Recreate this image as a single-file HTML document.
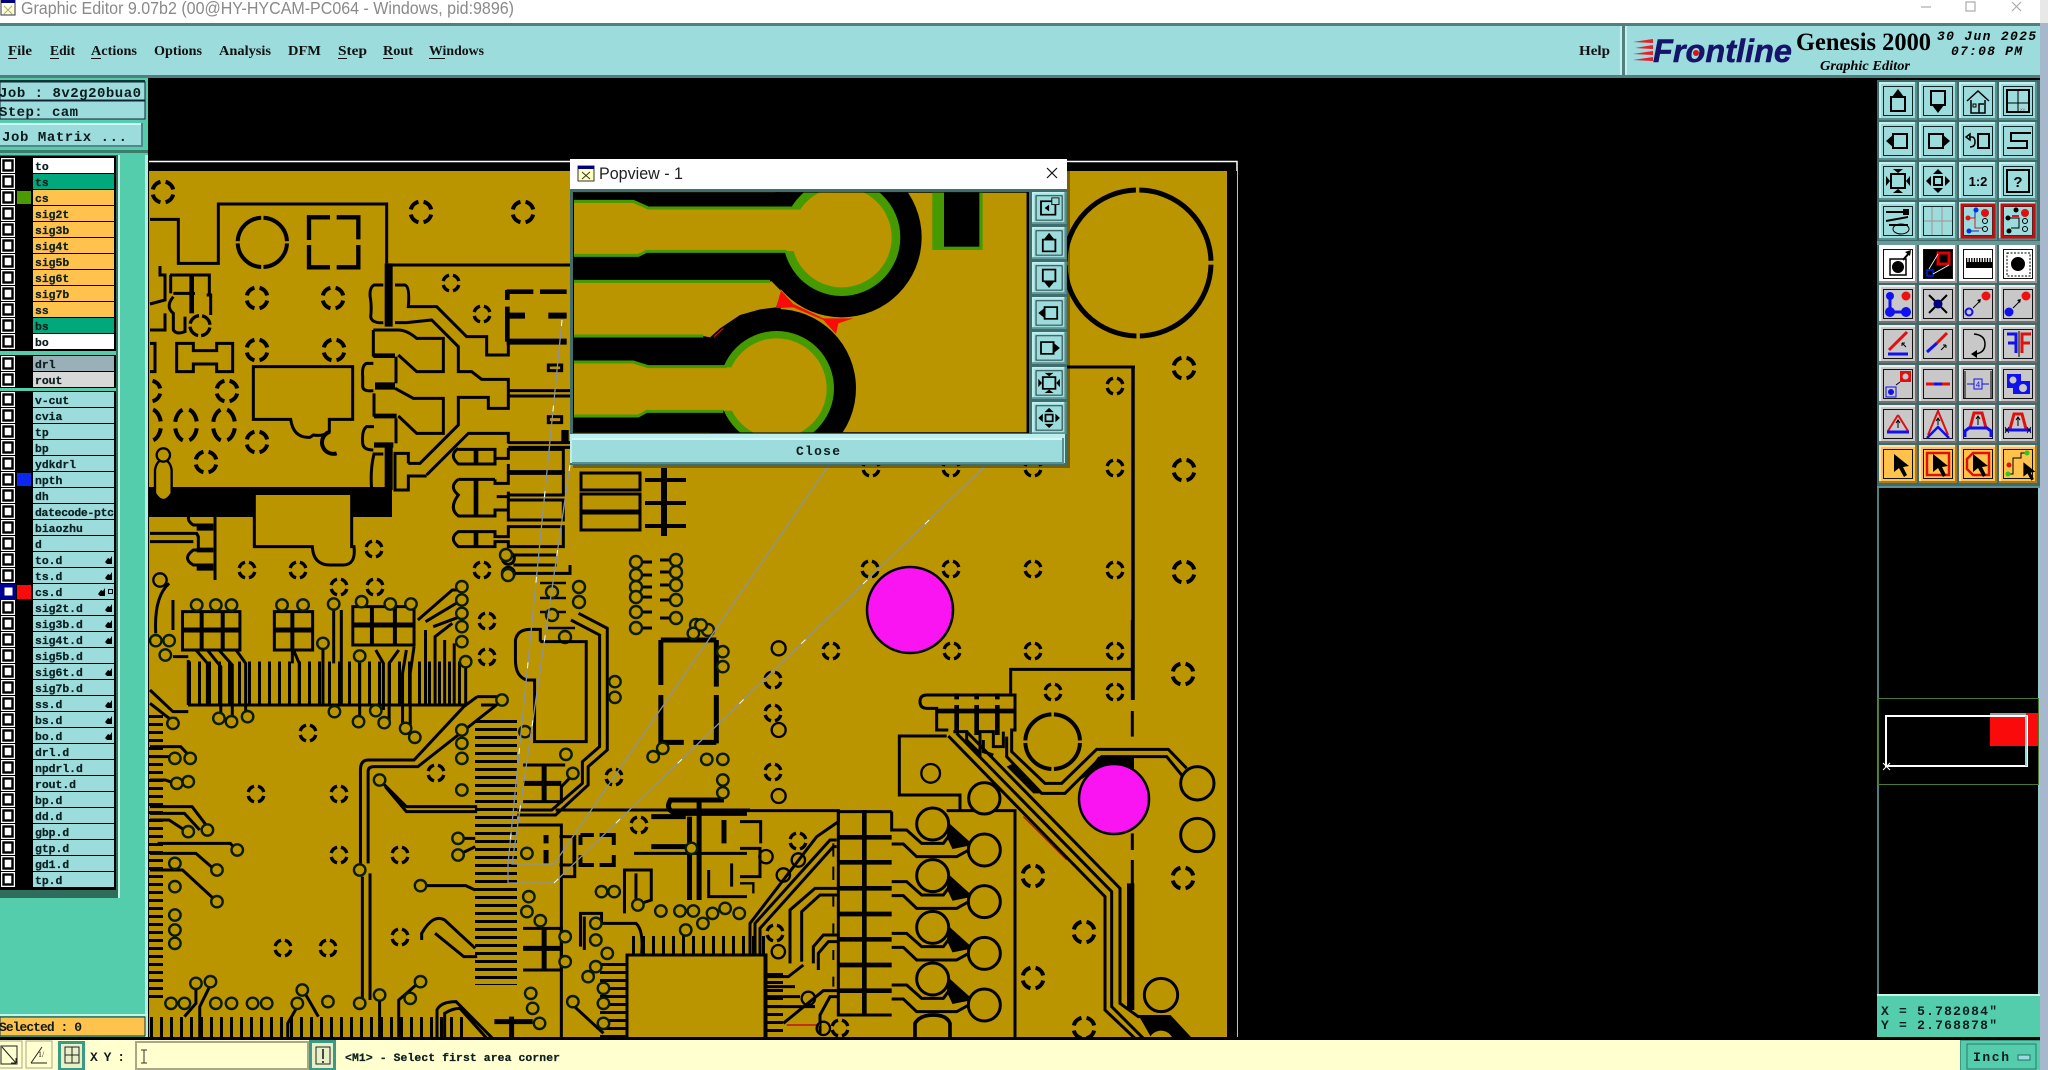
<!DOCTYPE html>
<html><head><meta charset="utf-8"><title>Graphic Editor</title>
<style>
html,body{margin:0;padding:0;background:#000;width:2048px;height:1070px;overflow:hidden}
svg{display:block}
.m{font-family:"Liberation Mono",monospace;font-weight:bold;fill:#0c1c1c}
.s{font-family:"Liberation Serif",serif;font-weight:bold;fill:#111}
.u{font-family:"Liberation Sans",sans-serif}
.z path,.z line,.z rect{vector-effect:non-scaling-stroke}
.l{font-family:"Liberation Mono",monospace;font-weight:bold;font-size:11.4px;fill:#0c2020;stroke:#0c2020;stroke-width:.25px}
</style></head><body>
<svg width="2048" height="1070" viewBox="0 0 2048 1070" xmlns="http://www.w3.org/2000/svg">
<defs>
<circle id="T" r="10.5" fill="none" stroke="#000" stroke-width="4" pathLength="100" stroke-dasharray="17 8" stroke-dashoffset="-4"/>
<circle id="t" r="8" fill="none" stroke="#000" stroke-width="3.4" pathLength="100" stroke-dasharray="17 8" stroke-dashoffset="-4"/>
<ellipse id="O" rx="11" ry="16" fill="none" stroke="#000" stroke-width="4" pathLength="100" stroke-dasharray="17 8" stroke-dashoffset="-4"/>
<ellipse id="q" rx="15" ry="17" fill="#ba9500" stroke="#0a1a00" stroke-width="2.4" style="vector-effect:non-scaling-stroke"/>
<circle id="p" r="6" fill="#ba9500" stroke="#0a1a00" stroke-width="2.4"/>
<g id="c"><rect x="1" width="14" height="15" fill="#fff"/><rect x="3.5" y="2.5" width="9" height="10" fill="none" stroke="#000" stroke-width="2.4"/></g>
<path id="h" d="M0,6L3,2L5,3L7,0V4L7,8H2Z" fill="#000"/>
<g id="bt"><rect width="38" height="38" fill="#9cdcdc"/><path d="M1,38V1H38" fill="none" stroke="#c4efef" stroke-width="2"/><path d="M37,0V37H0" fill="none" stroke="#5a8f8f" stroke-width="2"/><rect x="4.5" y="4.5" width="29" height="29" fill="none" stroke="#152525" stroke-width="1"/></g>
<g id="bg"><rect width="38" height="38" fill="#c8c8c8"/><path d="M1,38V1H38" fill="none" stroke="#ededed" stroke-width="2"/><path d="M37,0V37H0" fill="none" stroke="#707070" stroke-width="2"/><rect x="4.5" y="4.5" width="29" height="29" fill="none" stroke="#111" stroke-width="1"/></g>
<g id="bw"><rect width="38" height="38" fill="#fff"/><path d="M37,0V37H0" fill="none" stroke="#999" stroke-width="2"/><rect x="4.5" y="4.5" width="29" height="29" fill="none" stroke="#111" stroke-width="1"/></g>
<g id="bo"><rect width="38" height="38" fill="#ffc24c"/><path d="M1,38V1H38" fill="none" stroke="#ffe2a8" stroke-width="2"/><path d="M37,0V37H0" fill="none" stroke="#a87a28" stroke-width="2"/><rect x="4.5" y="4.5" width="29" height="29" fill="none" stroke="#111" stroke-width="1"/></g>
<g id="iu"><rect x="12" y="15" width="14" height="14" fill="none" stroke="#000" stroke-width="2"/><path d="M13,15L19,7L25,15Z"/></g>
<g id="id"><rect x="12" y="9" width="14" height="14" fill="none" stroke="#000" stroke-width="2"/><path d="M13,23H25L19,31Z"/></g>
<g id="il"><rect x="14" y="12" width="14" height="14" fill="none" stroke="#000" stroke-width="2"/><path d="M15,12V26L7,19Z"/></g>
<g id="ir"><rect x="10" y="12" width="14" height="14" fill="none" stroke="#000" stroke-width="2"/><path d="M23,12V26L31,19Z"/></g>
<g id="ifit"><rect x="12" y="12" width="14" height="14" fill="none" stroke="#000" stroke-width="2"/><path d="M14,7H24L19,11ZM14,31H24L19,27ZM7,14V24L11,19ZM31,14V24L27,19Z"/></g>
<g id="ice"><rect x="15" y="15" width="8" height="8" fill="none" stroke="#000" stroke-width="2"/><path d="M19,7L14,12H24ZM19,31L14,26H24ZM7,19L12,14V24ZM31,19L26,14V24Z"/></g>
<path id="ptr" d="M13,9V27L18,23L23,32L26,30L22,22L28,21Z"/>
<clipPath id="cb"><rect x="149" y="171" width="1078" height="866"/></clipPath>
<clipPath id="cp"><rect x="42" y="128" width="1358" height="719"/></clipPath>
</defs>

<!-- base -->
<rect width="2048" height="1070" fill="#000"/>
<rect x="2040" width="8" height="1070" fill="#a8b8cc"/>
<rect width="2040" height="23" fill="#fff"/>
<rect x="2040" width="8" height="23" fill="#e8e8e8"/>
<rect x="1" y="0" width="14" height="15" fill="#fff" stroke="#333"/><rect x="1" y="0" width="14" height="3" fill="#000080"/><path d="M4,6L12,14M12,6L4,14" stroke="#333"/><rect x="3" y="5" width="10" height="9" fill="#ffffb0" opacity=".6"/>
<text class="u" x="21" y="14" font-size="17.5" fill="#8a8a8a" textLength="493" lengthAdjust="spacingAndGlyphs">Graphic Editor 9.07b2 (00@HY-HYCAM-PC064 - Windows, pid:9896)</text>
<path d="M1921,7H1931" stroke="#aaa" stroke-width="1.2"/><rect x="1966" y="2" width="9" height="9" fill="none" stroke="#aaa" stroke-width="1.2"/><path d="M2012,2L2021,11M2021,2L2012,11" stroke="#aaa" stroke-width="1.2"/>

<rect y="23" width="2040" height="55" fill="#4f7f7f"/>
<rect y="26" width="2040" height="49" fill="#9cdcdc"/>
<g class="s" font-size="14">
<text x="8" y="55" textLength="24" lengthAdjust="spacingAndGlyphs">File</text>
<text x="50" y="55" textLength="25" lengthAdjust="spacingAndGlyphs">Edit</text>
<text x="91" y="55" textLength="46" lengthAdjust="spacingAndGlyphs">Actions</text>
<text x="154" y="55" textLength="48" lengthAdjust="spacingAndGlyphs">Options</text>
<text x="219" y="55" textLength="52" lengthAdjust="spacingAndGlyphs">Analysis</text>
<text x="288" y="55" textLength="33" lengthAdjust="spacingAndGlyphs">DFM</text>
<text x="338" y="55" textLength="29" lengthAdjust="spacingAndGlyphs">Step</text>
<text x="383" y="55" textLength="30" lengthAdjust="spacingAndGlyphs">Rout</text>
<text x="429" y="55" textLength="55" lengthAdjust="spacingAndGlyphs">Windows</text>
<text x="1579" y="55" textLength="31" lengthAdjust="spacingAndGlyphs">Help</text>
</g>
<path d="M8,58.5H17M50,58.5H59M91,58.5H101M338,58.5H347M383,58.5H393M429,58.5H445" stroke="#111" stroke-width="1"/>
<rect x="1620" y="26" width="2" height="49" fill="#c4efef"/><rect x="1622" y="26" width="3" height="52" fill="#4f7f7f"/><rect x="1625" y="26" width="2" height="49" fill="#c4efef"/>
<path d="M1633,42L1653,39V43ZM1635,48L1653,45V49ZM1633,54L1653,51V55ZM1633,60L1653,57V61Z" fill="#e8202c"/>
<text x="1653" y="62" font-family="Liberation Sans" font-weight="bold" font-style="italic" font-size="32" fill="#14146a" stroke="#14146a" stroke-width=".5" textLength="139" lengthAdjust="spacingAndGlyphs">Frontline</text>
<circle cx="1696" cy="53" r="3" fill="#e01010"/>
<text x="1796" y="50" font-family="Liberation Serif" font-weight="bold" font-size="25" fill="#000" textLength="135" lengthAdjust="spacingAndGlyphs">Genesis 2000</text>
<text x="1820" y="70" font-family="Liberation Serif" font-weight="bold" font-style="italic" font-size="14" fill="#000" textLength="90" lengthAdjust="spacingAndGlyphs">Graphic Editor</text>
<text x="1937" y="40" font-family="Liberation Mono" font-weight="bold" font-style="italic" font-size="13" fill="#000" textLength="99" lengthAdjust="spacing">30 Jun 2025</text>
<text x="1951" y="55" font-family="Liberation Mono" font-weight="bold" font-style="italic" font-size="13" fill="#000" textLength="71" lengthAdjust="spacing">07:08 PM</text>

<!-- left panel -->
<rect y="78" width="148" height="962" fill="#54cdac"/>
<rect x="145" y="155" width="3" height="882" fill="#b8efe0"/>
<rect y="80" width="145" height="2" fill="#0f3a3a"/>
<rect y="82" width="145" height="18" fill="#9cdcdc" stroke="#123" stroke-width="1"/>
<rect y="101" width="145" height="18" fill="#9cdcdc" stroke="#123" stroke-width="1"/>
<text class="m" x="-1" y="97" font-size="14" textLength="142">Job : 8v2g20bua0</text>
<text class="m" x="-1" y="116" font-size="14" textLength="79">Step: cam</text>
<rect y="123" width="143" height="23" fill="#9cdcdc"/><path d="M0,124H142" stroke="#d4f7f7" stroke-width="2"/><path d="M142,123V146H0" fill="none" stroke="#4f8a8a" stroke-width="2"/>
<text class="m" x="2" y="141" font-size="14" textLength="125">Job Matrix ...</text>
<rect y="150" width="148" height="3" fill="#3d7b6a"/>
<rect y="155" width="118" height="743" fill="#2e6d5c"/>
<rect x="118" y="155" width="2" height="743" fill="#c8f4e8"/>
<rect y="156" width="116" height="195" fill="#000"/>
<rect y="355" width="116" height="33" fill="#000"/>
<rect y="391" width="116" height="499" fill="#000"/>
<rect y="351" width="116" height="4" fill="#54cdac"/><rect y="388" width="116" height="3" fill="#54cdac"/>

<g id="rows">
<use href="#c" y="158"/><rect x="33" y="158" width="81" height="15" fill="#fff"/><text class="l" x="35" y="170">to</text>
<use href="#c" y="174"/><rect x="33" y="174" width="81" height="15" fill="#00a87c"/><text class="l" x="35" y="186">ts</text>
<use href="#c" y="190"/><rect x="33" y="190" width="81" height="15" fill="#ffc24c"/><rect x="17" y="191" width="14" height="13" fill="#4a9a00"/><text class="l" x="35" y="202">cs</text>
<use href="#c" y="206"/><rect x="33" y="206" width="81" height="15" fill="#ffc24c"/><text class="l" x="35" y="218">sig2t</text>
<use href="#c" y="222"/><rect x="33" y="222" width="81" height="15" fill="#ffc24c"/><text class="l" x="35" y="234">sig3b</text>
<use href="#c" y="238"/><rect x="33" y="238" width="81" height="15" fill="#ffc24c"/><text class="l" x="35" y="250">sig4t</text>
<use href="#c" y="254"/><rect x="33" y="254" width="81" height="15" fill="#ffc24c"/><text class="l" x="35" y="266">sig5b</text>
<use href="#c" y="270"/><rect x="33" y="270" width="81" height="15" fill="#ffc24c"/><text class="l" x="35" y="282">sig6t</text>
<use href="#c" y="286"/><rect x="33" y="286" width="81" height="15" fill="#ffc24c"/><text class="l" x="35" y="298">sig7b</text>
<use href="#c" y="302"/><rect x="33" y="302" width="81" height="15" fill="#ffc24c"/><text class="l" x="35" y="314">ss</text>
<use href="#c" y="318"/><rect x="33" y="318" width="81" height="15" fill="#00a87c"/><text class="l" x="35" y="330">bs</text>
<use href="#c" y="334"/><rect x="33" y="334" width="81" height="15" fill="#fff"/><text class="l" x="35" y="346">bo</text>
<use href="#c" y="356"/><rect x="33" y="356" width="81" height="15" fill="#9ab0b8"/><text class="l" x="35" y="368">drl</text>
<use href="#c" y="372"/><rect x="33" y="372" width="81" height="15" fill="#d8d8d8"/><text class="l" x="35" y="384">rout</text>
<g id="g3">
<use href="#c" y="392"/><rect x="33" y="392" width="81" height="15" fill="#9cdcdc"/><text class="l" x="35" y="404">v-cut</text>
<use href="#c" y="408"/><rect x="33" y="408" width="81" height="15" fill="#9cdcdc"/><text class="l" x="35" y="420">cvia</text>
<use href="#c" y="424"/><rect x="33" y="424" width="81" height="15" fill="#9cdcdc"/><text class="l" x="35" y="436">tp</text>
<use href="#c" y="440"/><rect x="33" y="440" width="81" height="15" fill="#9cdcdc"/><text class="l" x="35" y="452">bp</text>
<use href="#c" y="456"/><rect x="33" y="456" width="81" height="15" fill="#9cdcdc"/><text class="l" x="35" y="468">ydkdrl</text>
<use href="#c" y="472"/><rect x="33" y="472" width="81" height="15" fill="#9cdcdc"/><rect x="17" y="473" width="14" height="13" fill="#0a28f0"/><text class="l" x="35" y="484">npth</text>
<use href="#c" y="488"/><rect x="33" y="488" width="81" height="15" fill="#9cdcdc"/><text class="l" x="35" y="500">dh</text>
<use href="#c" y="504"/><rect x="33" y="504" width="81" height="15" fill="#9cdcdc"/><text class="l" x="35" y="516" textLength="79" lengthAdjust="spacing">datecode-ptc</text>
<use href="#c" y="520"/><rect x="33" y="520" width="81" height="15" fill="#9cdcdc"/><text class="l" x="35" y="532">biaozhu</text>
<use href="#c" y="536"/><rect x="33" y="536" width="81" height="15" fill="#9cdcdc"/><text class="l" x="35" y="548">d</text>
<use href="#c" y="552"/><rect x="33" y="552" width="81" height="15" fill="#9cdcdc"/><text class="l" x="35" y="564">to.d</text><use href="#h" x="105" y="556"/>
<use href="#c" y="568"/><rect x="33" y="568" width="81" height="15" fill="#9cdcdc"/><text class="l" x="35" y="580">ts.d</text><use href="#h" x="105" y="572"/>
<rect x="0" y="584" width="16" height="16" fill="#000090"/><rect x="4" y="587" width="9" height="9" fill="#fff" stroke="#000090"/><rect x="33" y="584" width="81" height="15" fill="#9cdcdc"/><rect x="17" y="585" width="14" height="14" fill="#fa0a0a"/><text class="l" x="35" y="596">cs.d</text><use href="#h" x="98" y="588"/><rect x="108.500" y="589.500" width="4" height="4" fill="none" stroke="#000"/>
<use href="#c" y="600"/><rect x="33" y="600" width="81" height="15" fill="#9cdcdc"/><text class="l" x="35" y="612">sig2t.d</text><use href="#h" x="105" y="604"/>
<use href="#c" y="616"/><rect x="33" y="616" width="81" height="15" fill="#9cdcdc"/><text class="l" x="35" y="628">sig3b.d</text><use href="#h" x="105" y="620"/>
<use href="#c" y="632"/><rect x="33" y="632" width="81" height="15" fill="#9cdcdc"/><text class="l" x="35" y="644">sig4t.d</text><use href="#h" x="105" y="636"/>
<use href="#c" y="648"/><rect x="33" y="648" width="81" height="15" fill="#9cdcdc"/><text class="l" x="35" y="660">sig5b.d</text>
<use href="#c" y="664"/><rect x="33" y="664" width="81" height="15" fill="#9cdcdc"/><text class="l" x="35" y="676">sig6t.d</text><use href="#h" x="105" y="668"/>
<use href="#c" y="680"/><rect x="33" y="680" width="81" height="15" fill="#9cdcdc"/><text class="l" x="35" y="692">sig7b.d</text>
<use href="#c" y="696"/><rect x="33" y="696" width="81" height="15" fill="#9cdcdc"/><text class="l" x="35" y="708">ss.d</text><use href="#h" x="105" y="700"/>
<use href="#c" y="712"/><rect x="33" y="712" width="81" height="15" fill="#9cdcdc"/><text class="l" x="35" y="724">bs.d</text><use href="#h" x="105" y="716"/>
<use href="#c" y="728"/><rect x="33" y="728" width="81" height="15" fill="#9cdcdc"/><text class="l" x="35" y="740">bo.d</text><use href="#h" x="105" y="732"/>
<use href="#c" y="744"/><rect x="33" y="744" width="81" height="15" fill="#9cdcdc"/><text class="l" x="35" y="756">drl.d</text>
<use href="#c" y="760"/><rect x="33" y="760" width="81" height="15" fill="#9cdcdc"/><text class="l" x="35" y="772">npdrl.d</text>
<use href="#c" y="776"/><rect x="33" y="776" width="81" height="15" fill="#9cdcdc"/><text class="l" x="35" y="788">rout.d</text>
<use href="#c" y="792"/><rect x="33" y="792" width="81" height="15" fill="#9cdcdc"/><text class="l" x="35" y="804">bp.d</text>
<use href="#c" y="808"/><rect x="33" y="808" width="81" height="15" fill="#9cdcdc"/><text class="l" x="35" y="820">dd.d</text>
<use href="#c" y="824"/><rect x="33" y="824" width="81" height="15" fill="#9cdcdc"/><text class="l" x="35" y="836">gbp.d</text>
<use href="#c" y="840"/><rect x="33" y="840" width="81" height="15" fill="#9cdcdc"/><text class="l" x="35" y="852">gtp.d</text>
<use href="#c" y="856"/><rect x="33" y="856" width="81" height="15" fill="#9cdcdc"/><text class="l" x="35" y="868">gd1.d</text>
<use href="#c" y="872"/><rect x="33" y="872" width="81" height="15" fill="#9cdcdc"/><text class="l" x="35" y="884">tp.d</text>
</g>
</g>
<rect y="1014" width="148" height="2" fill="#c8f4e8"/>
<rect y="1017" width="145" height="19" fill="#ffc24c" stroke="#0f3a3a"/>
<text class="m" x="-1" y="1031" font-size="13" textLength="83">Selected : 0</text>

<!-- board -->
<path d="M149,161.500H1237V1037" fill="none" stroke="#fff" stroke-width="1.500"/>
<g clip-path="url(#cb)">
<rect x="149" y="171" width="1078" height="866" fill="#ba9500"/>

<!-- big black bar -->
<path d="M149,487H392V517H351V495H254V517H149Z" fill="#000"/>

<!-- thermals -->
<g>
<use href="#T" x="163" y="192"/><use href="#T" x="421" y="212"/><use href="#T" x="523" y="212"/><use href="#T" x="257" y="298"/><use href="#T" x="333" y="298"/><use href="#T" x="257" y="350"/><use href="#T" x="334" y="350"/><use href="#T" x="227" y="391"/><use href="#T" x="150" y="391"/><use href="#t" x="451" y="283"/><use href="#t" x="482" y="314"/><use href="#T" x="257" y="442"/><use href="#T" x="206" y="462"/><use href="#t" x="247" y="570"/><use href="#t" x="298" y="570"/><use href="#t" x="374" y="549"/><use href="#t" x="482" y="570"/>
<use href="#O" x="186" y="425"/><use href="#O" x="224" y="425"/><use href="#O" x="150" y="425"/>
<use href="#t" x="339" y="587"/><use href="#t" x="375" y="587"/><use href="#t" x="487" y="621"/><use href="#t" x="487" y="657"/><use href="#t" x="308" y="733"/><use href="#t" x="256" y="794"/><use href="#t" x="339" y="794"/><use href="#t" x="339" y="855"/><use href="#t" x="400" y="855"/><use href="#t" x="436" y="773"/><use href="#t" x="614" y="777"/><use href="#t" x="400" y="937"/><use href="#t" x="283" y="948"/><use href="#t" x="328" y="948"/><use href="#t" x="639" y="825"/>
<use href="#t" x="1115" y="386"/><use href="#t" x="1115" y="468"/><use href="#t" x="1115" y="570"/><use href="#t" x="1115" y="651"/><use href="#t" x="1033" y="651"/><use href="#t" x="952" y="651"/><use href="#t" x="831" y="651"/><use href="#t" x="870" y="569"/><use href="#t" x="951" y="569"/><use href="#t" x="1033" y="569"/><use href="#t" x="871" y="468"/><use href="#t" x="951" y="468"/><use href="#t" x="1033" y="468"/>
<use href="#T" x="1184" y="368"/><use href="#T" x="1184" y="470"/><use href="#T" x="1184" y="572"/><use href="#T" x="1183" y="674"/><use href="#T" x="1183" y="878"/><use href="#T" x="1033" y="876"/><use href="#T" x="1084" y="932"/><use href="#T" x="1033" y="978"/><use href="#T" x="1084" y="1028"/>
<use href="#t" x="773" y="680"/><use href="#t" x="773" y="713"/><use href="#t" x="773" y="772"/><use href="#t" x="1053" y="692"/><use href="#t" x="1115" y="692"/><use href="#t" x="798" y="841"/><use href="#t" x="775" y="933"/><use href="#t" x="840" y="1028"/>
</g>
<circle cx="1138" cy="263" r="73" fill="none" stroke="#000" stroke-width="5" pathLength="400" stroke-dasharray="97 3" stroke-dashoffset="-1.500"/>

<!-- zoom-9 region -->
<g transform="translate(150,160) scale(.33333)" fill="none" stroke="#000" stroke-width="9">
<path d="M0,178H85V310H205V132H710V310"/><path d="M720,315H1260"/>
<circle cx="337" cy="247" r="74" stroke-width="12" pathLength="400" stroke-dasharray="94 6" stroke-dashoffset="-3"/>
<path d="M477,240V172H540M560,172H625V238M625,255V322H560M540,322H477V255" stroke-width="13"/>
<path d="M30,318V345H45V420L0,432M60,345H178V405M62,345V400"/>
<path d="M125,345V460" stroke-width="14"/>
<path d="M70,400H135M70,410Q45,440 70,460V510Q80,525 105,515V470M0,510H45V460"/>
<circle cx="150" cy="497" r="30" stroke-width="10" pathLength="100" stroke-dasharray="20 5" stroke-dashoffset="-3"/>
<path d="M170,405H182V465"/>
<path d="M80,550H130V572H200V550H248V635H200V612H130V635H80Z"/>
<path d="M0,550H15V635H0"/>
<path d="M310,620H608V778H538V815Q520,830 490,825L480,832Q430,835 422,778H310Z"/>
<path d="M540,815A32,32 0 1 0 560,880" stroke-width="12"/>
<path d="M313,1005V1160H487Q490,1215 540,1215H580Q618,1215 612,1160H605V1005"/>
<path d="M716,310V500" stroke-width="24"/><path d="M716,850V990" stroke-width="24"/>
<path d="M700,375H672Q655,385 662,420Q665,445 662,470Q665,490 700,488"/>
<path d="M735,375H765Q780,380 775,440H860L950,530H1010V585H1075V545"/>
<path d="M735,488H770L845,480L925,560V635H965L995,658H1075V745H1015V712H925V795L810,910H775"/>
<path d="M830,945L955,820H1075V850"/><path d="M830,948H775V990H735V880H775V910"/>
<path d="M670,510V590M670,510H745Q770,510 800,535H880V635H800L745,585"/>
<path d="M670,587H735" stroke-width="14"/><path d="M738,590V670"/>
<path d="M670,610H650Q635,615 638,650V680Q640,695 670,692"/>
<path d="M675,678H735" stroke-width="22"/><path d="M735,685L790,715H880V820H800L745,768"/>
<path d="M672,700V770"/><path d="M672,768H740" stroke-width="14"/>
<path d="M738,775V850M672,800H650Q635,810 638,850Q640,870 670,870"/>
<path d="M672,855H730" stroke-width="16"/>
<path d="M700,882H672Q660,930 665,988H700"/>
<path d="M1070,395H1150M1170,395H1250" stroke-width="14"/>
<path d="M1072,390V420M1072,440V545" stroke-width="14"/>
<path d="M1075,467H1125M1195,467H1250" stroke-width="18"/>
<path d="M1070,545H1250" stroke-width="18"/>
<path d="M1195,615H1235V632H1195ZM1195,770H1235V788H1195Z"/>
<path d="M1075,692H1260M1075,708H1260"/>
<path d="M1075,848H1260M1075,862H1260"/>
<path d="M1245,810V845" stroke-width="22"/>
<path d="M925,865Q895,885 925,912H1035V895H1075V868H1240V935H1075V912M925,868H1035V895"/>
<path d="M978,868V912" stroke-width="14"/>
<path d="M925,958Q895,980 925,1005Q895,1045 925,1068H1035V1050H1075V1020H1240V1080H1075V1050M1035,958H925M1035,958V970H1075V940H1240V1005H1075V995M1040,1010H1075V1025"/>
<path d="M978,958V1068" stroke-width="14"/>
<path d="M925,1115Q895,1135 925,1160H1035V1145H1075V1160H1240V1100H1075V1130H1035V1115H925Z"/>
<path d="M978,1115V1160" stroke-width="14"/>
<path d="M1090,1185H1220M1090,1215H1220M1090,1240H1260V1215"/>
<circle cx="1075" cy="1195" r="18" fill="#ba9500"/><circle cx="1075" cy="1240" r="18" fill="#ba9500"/>
<path d="M15,1000Q40,1040 65,1000V930Q60,900 40,900Q20,900 15,930Z" fill="#ba9500" stroke-width="7"/>
<circle cx="40" cy="885" r="20" fill="#ba9500" stroke-width="7"/>
<path d="M195,1070V1260"/>
<path d="M190,1052H130Q100,1075 130,1095H190"/>
<path d="M140,1105H190M140,1170H190M140,1225H190" stroke-width="14"/>
<path d="M0,1120H140L145,1130V1170H130Q95,1195 130,1215H190M0,1145H130"/>
<circle cx="30" cy="1260" r="20" fill="#ba9500" stroke-width="7"/>
</g>

<!-- mid band below popup -->
<g fill="none" stroke="#000" stroke-width="3">
<path d="M581,473H640V490H581ZM581,494H640V511H581ZM581,513H640V530H581Z"/>
<path d="M664,468V536" stroke-width="6"/><path d="M645,480H686M645,503H686M645,526H686" stroke-width="4"/>
<path d="M636,562H652M636,575H652M636,587H652M636,597H652M636,612H652M636,628H652M660,560H676M660,572H676M660,585H676M660,600H676M660,618H676"/>
<path d="M540,583H566M540,598H566M540,612H566M548,628H575" stroke-width="2.5"/>
</g>
<g><use href="#p" x="636" y="562"/><use href="#p" x="636" y="575"/><use href="#p" x="636" y="587"/><use href="#p" x="636" y="597"/><use href="#p" x="636" y="612"/><use href="#p" x="636" y="628"/><use href="#p" x="676" y="560"/><use href="#p" x="676" y="572"/><use href="#p" x="676" y="585"/><use href="#p" x="676" y="600"/><use href="#p" x="676" y="618"/><use href="#p" x="696" y="625"/><use href="#p" x="708" y="630"/><use href="#p" x="506" y="555"/><use href="#p" x="508" y="575"/><use href="#p" x="579" y="587"/><use href="#p" x="579" y="602"/><use href="#p" x="565" y="637"/><use href="#p" x="552" y="592"/><use href="#p" x="552" y="615"/></g>

<!-- combs -->
<path d="M188,683H467" stroke="#000" stroke-width="43" stroke-dasharray="3 7" fill="none"/>
<path d="M188,705H467" stroke="#000" stroke-width="3"/>
<path d="M496,720V985" stroke="#000" stroke-width="42" stroke-dasharray="3 5" fill="none"/>
<path d="M156,715V1000" stroke="#000" stroke-width="14" stroke-dasharray="3 5" fill="none"/>
<path d="M150,1027H466" stroke="#000" stroke-width="20" stroke-dasharray="3 7" fill="none"/>
<path d="M632,945H765" stroke="#000" stroke-width="18" stroke-dasharray="3 7" fill="none"/>
<path d="M613,963V1037" stroke="#000" stroke-width="26" stroke-dasharray="3 5" fill="none"/>
<path d="M775,973V1037" stroke="#000" stroke-width="16" stroke-dasharray="3 5" fill="none"/>
<path d="M627,1037V955H766V1037" fill="none" stroke="#000" stroke-width="3"/>

<!-- zoom-10 region -->
<g class="z" transform="translate(150,580) scale(.38265,.33333)" fill="none" stroke="#000" stroke-width="3">
<path d="M85,95H235V210H85ZM325,95H425V210H325ZM530,80H690V195H530Z"/>
<path d="M85,150H235M325,150H425M530,135H690" stroke-width="5"/>
<path d="M135,95V210M190,95V210M372,95V210M580,80V195M640,80V195" stroke-width="4"/>
<path d="M120,210L150,250V375M150,210L185,260V410M180,210L215,255V420M225,210L250,250V400M372,210V250M375,210L390,250V375M480,90V250M500,90V375M452,205V375M548,245V420M590,210L610,250V390M650,210L625,250V420M670,210L660,280V450L690,470M690,200L680,280V470"/>
<path d="M700,120L790,30H815M720,125L800,70H815M740,140L810,110M720,375V150M745,375V170L790,130M770,375V180M795,375V190M825,245V375"/>
<path d="M50,10Q10,50 15,160M60,60V150M100,240V375M0,330L60,395H100M0,370L50,415H70M60,230H100"/>
<path d="M855,350H920M855,350L820,380L690,540H570Q550,540 550,570V850"/>
<path d="M865,375H905L700,560H585Q570,560 570,575V850M575,880V1260M555,890V1260"/>
<path d="M1120,100L1195,145V510L1145,560V615L1060,705H960M1100,120L1175,165V500L1130,545V610L1050,690H960"/>
<path d="M960,735H1075V1375M1075,740V890H1110V770H1070"/>
<path d="M1060,690H1568"/>
<path d="M1020,185H1140V485H1005V300H985Q955,290 955,240V180Q960,150 990,148H1020V185"/>
<path d="M1335,180V315M1335,345V490M1480,180V320M1480,345V490M1335,180H1480M1335,487H1395M1420,487H1480" stroke-width="5"/>
<path d="M1030,555V665M975,610H1075" stroke-width="5"/><path d="M975,555H1085M975,665H1075V620L1100,590"/>
<path d="M1030,1045V1170M975,1105H1075" stroke-width="5"/><path d="M975,1045H1075V1170H975"/>
<path d="M1035,765V790M1035,810V850" stroke-width="5"/>
<path d="M1125,765V795M1125,825V855H1160M1175,855H1212V825M1212,795V765H1175M1160,765H1125" stroke-width="4"/>
<path d="M1070,855H1108V770"/>
<path d="M600,600L670,680H855M615,620L670,695H855"/>
<path d="M805,775H850M805,825L850,800M700,917H825L850,930"/>
<path d="M710,1080V1060Q740,1000 770,1020L850,1105M745,1060L820,1130H855"/>
<path d="M0,680H110L150,740M0,700H90L130,750M0,720H50L90,750M20,790H210L225,810M0,820H120L170,870M0,870H85L170,960M0,500H80L105,530M0,530H50M0,600H40L65,610"/>
<path d="M120,1210V1270L90,1310M160,1210L130,1280V1375M400,1230L440,1310M385,1280L360,1330V1375M600,1250V1375M700,1210L650,1260V1375"/>
<path d="M750,1375V1290Q760,1265 800,1265L895,1375M770,1375V1300Q790,1285 810,1285L880,1375"/>
<path d="M900,1325H1000M945,1310V1375" stroke-width="5"/>
<path d="M1100,1270L1185,1360"/>
<path d="M1125,1100V1000H1180V1030M1135,1110V1010M1150,1030H1270Q1290,1050 1285,1120"/>
<path d="M1240,1000V870H1310V960L1270,975V880M1265,820H1560"/>
<path d="M1310,710H1400M1310,800H1400M1410,710V960M1435,660V960M1500,660H1360Q1345,690 1375,700H1560M1500,720V790" stroke-width="5"/>
<path d="M1460,870V950H1560M1520,850V920"/>
</g>
<g transform="translate(150,580) scale(.38265,.33333)">
<use href="#q" x="122" y="75"/><use href="#q" x="172" y="75"/><use href="#q" x="213" y="75"/><use href="#q" x="345" y="75"/><use href="#q" x="400" y="75"/><use href="#q" x="480" y="72"/><use href="#q" x="553" y="65"/><use href="#q" x="628" y="72"/><use href="#q" x="682" y="72"/><use href="#q" x="452" y="190"/><use href="#q" x="548" y="228"/><use href="#q" x="15" y="182"/><use href="#q" x="50" y="182"/><use href="#q" x="40" y="225"/><use href="#q" x="825" y="245"/><use href="#q" x="815" y="185"/><use href="#q" x="815" y="140"/><use href="#q" x="815" y="100"/><use href="#q" x="815" y="60"/><use href="#q" x="815" y="20"/><use href="#q" x="180" y="415"/><use href="#q" x="213" y="425"/><use href="#q" x="255" y="410"/><use href="#q" x="482" y="395"/><use href="#q" x="545" y="425"/><use href="#q" x="590" y="392"/><use href="#q" x="612" y="428"/><use href="#q" x="668" y="445"/><use href="#q" x="692" y="472"/><use href="#q" x="920" y="360"/><use href="#q" x="980" y="455"/><use href="#q" x="815" y="450"/><use href="#q" x="815" y="490"/><use href="#q" x="815" y="535"/><use href="#q" x="815" y="630"/><use href="#q" x="1087" y="523"/><use href="#q" x="1105" y="580"/><use href="#q" x="1215" y="305"/><use href="#q" x="1215" y="352"/><use href="#q" x="1340" y="505"/><use href="#q" x="1315" y="530"/><use href="#q" x="1455" y="538"/><use href="#q" x="1497" y="538"/><use href="#q" x="1497" y="600"/><use href="#q" x="1497" y="638"/><use href="#q" x="1497" y="215"/><use href="#q" x="1497" y="260"/><use href="#q" x="1420" y="160"/><use href="#q" x="1440" y="135"/><use href="#q" x="600" y="600"/><use href="#q" x="805" y="775"/><use href="#q" x="805" y="825"/><use href="#q" x="985" y="820"/><use href="#q" x="548" y="870"/><use href="#q" x="707" y="917"/><use href="#q" x="990" y="950"/><use href="#q" x="985" y="995"/><use href="#q" x="1020" y="1022"/><use href="#q" x="60" y="430"/><use href="#q" x="65" y="535"/><use href="#q" x="105" y="535"/><use href="#q" x="70" y="610"/><use href="#q" x="100" y="605"/><use href="#q" x="150" y="750"/><use href="#q" x="100" y="755"/><use href="#q" x="228" y="810"/><use href="#q" x="175" y="870"/><use href="#q" x="175" y="965"/><use href="#q" x="65" y="850"/><use href="#q" x="65" y="920"/><use href="#q" x="65" y="1005"/><use href="#q" x="65" y="1050"/><use href="#q" x="65" y="1090"/><use href="#q" x="120" y="1210"/><use href="#q" x="158" y="1205"/><use href="#q" x="55" y="1270"/><use href="#q" x="90" y="1270"/><use href="#q" x="172" y="1270"/><use href="#q" x="213" y="1270"/><use href="#q" x="268" y="1270"/><use href="#q" x="305" y="1270"/><use href="#q" x="398" y="1230"/><use href="#q" x="385" y="1270"/><use href="#q" x="465" y="1265"/><use href="#q" x="548" y="1270"/><use href="#q" x="600" y="1245"/><use href="#q" x="707" y="1205"/><use href="#q" x="680" y="1255"/><use href="#q" x="995" y="1240"/><use href="#q" x="1000" y="1285"/><use href="#q" x="1018" y="1330"/><use href="#q" x="1105" y="1265"/><use href="#q" x="1185" y="1330"/><use href="#q" x="1185" y="1270"/><use href="#q" x="1185" y="1225"/><use href="#q" x="1145" y="1190"/><use href="#q" x="1165" y="1160"/><use href="#q" x="1195" y="1120"/><use href="#q" x="1165" y="1080"/><use href="#q" x="1165" y="1030"/><use href="#q" x="1180" y="935"/><use href="#q" x="1213" y="935"/><use href="#q" x="1275" y="975"/><use href="#q" x="1335" y="993"/><use href="#q" x="1385" y="993"/><use href="#q" x="1420" y="993"/><use href="#q" x="1470" y="1000"/><use href="#q" x="1503" y="985"/><use href="#q" x="1400" y="1050"/><use href="#q" x="1445" y="1030"/><use href="#q" x="1540" y="1000"/><use href="#q" x="1415" y="805"/><use href="#q" x="1085" y="1070"/><use href="#q" x="1085" y="1145"/>
</g>

<!-- zoom-11 region -->
<g transform="translate(740,640) scale(.33333)" fill="none" stroke="#000" stroke-width="9">
<path d="M1177,-60V180M1177,213V290M1177,580V630M1177,660V1110"/>
<path d="M1172,730V1110" stroke-width="22"/>
<path d="M812,160V88H1177"/>
<path d="M540,185Q540,165 560,165H825V270H815V335L915,430H965L1070,328H1285L1340,385"/>
<path d="M540,185Q540,205 560,205H590V270H625"/>
<path d="M590,213H825" stroke-width="14"/>
<path d="M650,160V178M650,195V280M710,160V178M710,195V285M772,160V178M772,195V285" stroke-width="14"/>
<path d="M625,288L1095,770V1110L1190,1200M650,280L1115,755V1100L1215,1200M680,275L1140,745V1090L1195,1130H1290L1355,1200M730,300V335L760,345M800,290V350L905,460H975L1085,350H1280L1325,405"/>
<path d="M640,275H680V300L720,340V275H760V320H790V275"/>
<circle cx="938" cy="305" r="82" stroke-width="12" pathLength="400" stroke-dasharray="94 6" stroke-dashoffset="-3"/>
<path d="M620,288H478V465H660V510"/>
<circle cx="572" cy="400" r="28" stroke-width="7"/>
<path d="M0,512H295V545L230,590L30,850V945M620,512H825V1195M295,515H455"/>
<path d="M373,510V1125" stroke-width="14"/>
<path d="M295,592H455M295,667H455M295,745H455M295,822H455M295,898H455M295,975H455M295,1052H455" stroke-width="14"/>
<path d="M295,515V1125H455"/>
<path d="M290,600H270L45,850V945M290,620H280L60,865V945M295,745H225L150,810V970M295,765H240L185,815V965M295,885H250L220,920V970M295,905H265L235,940V990M295,1052H250L130,1150M295,1070H270L240,1125V1180"/>
<path d="M0,945H75V1195"/>
<path d="M280,610V650M280,680V720M280,770V800M280,850V880M280,930V960M280,1010V1040" stroke-width="6"/>
<path d="M80,1010H145L190,975M80,1040H165M80,1070H180M80,1100H225"/>
<path d="M140,1155H240" stroke="#c02020" stroke-width="5"/>
<path d="M525,1195V1150Q540,1125 580,1125Q620,1125 630,1150V1195" stroke-width="11"/>
<path d="M850,530L980,660" stroke="#b00" stroke-width="3"/>
<g id="u1"><path d="M455,515V570H500L545,610H610L625,590M455,612H490L530,650H650L690,628"/><circle cx="578" cy="552" r="48" fill="#ba9500"/><path d="M630,558L690,612L640,622L625,590Z" fill="#000"/><circle cx="733" cy="630" r="48" fill="#ba9500"/></g>
<g transform="translate(0,155)"><path d="M455,612H490L530,650H650L690,628M455,570H500L545,610H610L625,590"/><circle cx="578" cy="552" r="48" fill="#ba9500"/><path d="M630,558L690,612L640,622L625,590Z" fill="#000"/><circle cx="733" cy="630" r="48" fill="#ba9500"/></g>
<g transform="translate(0,310)"><path d="M455,612H490L530,650H650L690,628M455,570H500L545,610H610L625,590"/><circle cx="578" cy="552" r="48" fill="#ba9500"/><path d="M630,558L690,612L640,622L625,590Z" fill="#000"/><circle cx="733" cy="630" r="48" fill="#ba9500"/></g>
<g transform="translate(0,465)"><path d="M455,612H490L530,650H650L690,628M455,570H500L545,610H610L625,590"/><circle cx="578" cy="552" r="48" fill="#ba9500"/><path d="M630,558L690,612L640,622L625,590Z" fill="#000"/><circle cx="733" cy="630" r="48" fill="#ba9500"/></g>
<circle cx="733" cy="475" r="47" fill="#ba9500"/>
<circle cx="1372" cy="430" r="50" fill="#ba9500"/><circle cx="1372" cy="585" r="50" fill="#ba9500"/>
<path d="M1195,1125L1290,1125L1355,1195H1235Z" fill="#000" stroke="none"/>
<circle cx="1263" cy="1065" r="50" fill="#ba9500"/>
<circle cx="1263" cy="1210" r="38" fill="#ba9500" stroke="none"/>
<circle cx="116" cy="25" r="21" stroke-width="7"/><circle cx="116" cy="270" r="21" stroke-width="7"/><circle cx="116" cy="468" r="21" stroke-width="7"/>
<circle cx="78" cy="650" r="20" stroke-width="7"/><circle cx="175" cy="660" r="20" stroke-width="7"/><circle cx="130" cy="705" r="20" stroke-width="7"/>
<circle cx="115" cy="935" r="20" stroke-width="7"/><circle cx="205" cy="1075" r="20" stroke-width="7"/><circle cx="250" cy="1165" r="20" stroke-width="7"/>
<path d="M0,545H62V610M0,625H60V710H0"/>
<path d="M0,730H40V760" stroke-width="7"/>
<path d="M1075,350H1182V400L1150,385H1100L1050,400L1025,418Z" fill="#000" stroke="none"/>
<path d="M820,370L910,460H880L800,380Z" fill="#000" stroke="none"/>
</g>
<circle cx="910" cy="610" r="43" fill="#fb14f2" stroke="#000" stroke-width="2.500"/>
<circle cx="1114" cy="799" r="35" fill="#fb14f2" stroke="#000" stroke-width="2.500"/>

<!-- horizontal near popup -->
<path d="M1060,367H1135" stroke="#000" stroke-width="3" fill="none"/>
<path d="M1133,366V700" stroke="#000" stroke-width="3.500" fill="none"/>

<!-- overlay lines -->
<g fill="none" stroke="#8c92a0" stroke-width="1.300">
<path d="M562,320L508,864V883H554L986,465"/>
<path d="M570,465L512,864H554L829,465"/>
</g>
<g fill="none" stroke="#fff" stroke-width="1" stroke-dasharray="6 80">
<path d="M562,320L508,864"/><path d="M570,465L512,864"/><path d="M554,883L986,465"/>
</g>
</g>
<rect x="1227" y="171" width="10" height="866" fill="#000"/>

<!-- popup -->
<rect x="573" y="162" width="497" height="306" fill="#000" opacity=".35"/>
<rect x="570" y="159" width="497" height="306" fill="#3e6e6e"/>
<rect x="570" y="159" width="497" height="30" fill="#fff"/>
<rect x="578" y="166" width="16" height="15" fill="#ffffc0" stroke="#333"/><rect x="578" y="166" width="16" height="3" fill="#000080"/><path d="M582,172L590,179M590,172L582,179" stroke="#333"/>
<text class="u" x="599" y="179" font-size="16.500" fill="#222" textLength="84" lengthAdjust="spacingAndGlyphs">Popview - 1</text>
<path d="M1047,168L1057,178M1057,168L1047,178" stroke="#111" stroke-width="1.200"/>
<rect x="573" y="192" width="458" height="241" fill="#000"/>
<rect x="1029" y="190" width="38" height="244" fill="#3e6e6e"/>
<rect x="570" y="434" width="497" height="31" fill="#bdeeee"/>
<rect x="570" y="463" width="497" height="2" fill="#3e6e6e"/><rect x="1065" y="434" width="2" height="31" fill="#3e6e6e"/>
<g transform="translate(560,150) scale(.33333)">
<g clip-path="url(#cp)">
<rect x="42" y="128" width="1358" height="719" fill="#ba9500"/>
<rect x="42" y="128" width="620" height="719" fill="#000"/>
<circle cx="845" cy="262" r="240" fill="#000"/>
<circle cx="650" cy="715" r="238" fill="#000"/>
<circle cx="845" cy="262" r="176" fill="#449a00"/>
<circle cx="650" cy="715" r="172" fill="#449a00"/>
<circle cx="845" cy="262" r="150" fill="#ba9500"/>
<circle cx="650" cy="715" r="150" fill="#ba9500"/>
<path d="M42,154H220L265,176H760V303H260L235,316H42Z" fill="#ba9500"/>
<path d="M42,154H220L265,174H722M42,316H235L260,304H680" fill="none" stroke="#449a00" stroke-width="9"/>
<path d="M42,636H220L265,652H560V782H260L235,798H42Z" fill="#ba9500"/>
<path d="M42,636H220L265,650H500M42,798H235L260,784H490" fill="none" stroke="#449a00" stroke-width="9"/>
<path d="M42,394H635L665,425L648,472L600,478L540,495L480,535L450,562L430,558H42Z" fill="#ba9500"/>
<path d="M42,394H630M42,558H430" stroke="#449a00" stroke-width="9" fill="none"/>
<path d="M663,422L700,462L790,505L880,505L835,520L828,552L790,510L700,472L648,474Z" fill="#fa0a0a"/>
<path d="M462,560L490,535" stroke="#fa0a0a" stroke-width="3"/>
<rect x="1117" y="120" width="151" height="180" fill="#449a00"/>
<rect x="1152" y="120" width="106" height="170" fill="#000"/>
</g>
</g>
<g id="ptb">
<g transform="translate(1032,192) scale(.9,.84)"><use href="#bt"/><rect x="10" y="11" width="16" height="16" fill="none" stroke="#000" stroke-width="2"/><rect x="22" y="7" width="8" height="8" fill="#9cdcdc" stroke="#000"/><path d="M14,19L19,15V23Z"/></g>
<g transform="translate(1032,227) scale(.9,.84)"><use href="#bt"/><use href="#iu"/></g>
<g transform="translate(1032,262) scale(.9,.84)"><use href="#bt"/><use href="#id"/></g>
<g transform="translate(1032,297) scale(.9,.84)"><use href="#bt"/><use href="#il"/></g>
<g transform="translate(1032,332) scale(.9,.84)"><use href="#bt"/><use href="#ir"/></g>
<g transform="translate(1032,367) scale(.9,.84)"><use href="#bt"/><use href="#ifit"/></g>
<g transform="translate(1032,402) scale(.9,.84)"><use href="#bt"/><use href="#ice"/></g>
</g>
<rect x="572" y="438" width="492" height="25" fill="#9cdcdc"/><path d="M572,439H1064" stroke="#d4f7f7" stroke-width="2"/><path d="M1063,438V463H572" fill="none" stroke="#5a8f8f" stroke-width="2"/>
<text class="m" x="796" y="455" font-size="13" textLength="44">Close</text>

<!-- right toolbar -->
<rect x="1877" y="80" width="163" height="408" fill="#3f6a6a"/>
<rect x="1877" y="241" width="163" height="4" fill="#6a9a9a"/>
<rect x="1877" y="486" width="163" height="2" fill="#5a9090"/>
<g fill="#000">
<g transform="translate(1879,82)"><use href="#bt"/><use href="#iu"/></g>
<g transform="translate(1919,82)"><use href="#bt"/><use href="#id"/></g>
<g transform="translate(1959,82)"><use href="#bt"/><path d="M8,19L19,9L30,19M12,18V31H26V18M20,31V22H25" fill="none" stroke="#000" stroke-width="1.500"/><rect x="14" y="22" width="3" height="3" fill="none" stroke="#000"/></g>
<g transform="translate(1999,82)"><use href="#bt"/><rect x="8" y="8" width="22" height="22" fill="none" stroke="#000" stroke-width="2"/><path d="M8,21H30M19,8V30" stroke="#000"/><text x="21" y="29" font-size="4" font-family="Liberation Sans" fill="#555">XY</text></g>
<g transform="translate(1879,122)"><use href="#bt"/><use href="#il"/></g>
<g transform="translate(1919,122)"><use href="#bt"/><use href="#ir"/></g>
<g transform="translate(1959,122)"><use href="#bt"/><rect x="19" y="12" width="11" height="14" fill="none" stroke="#000" stroke-width="2"/><path d="M7,15L11,12V18ZM10,15H13Q16,15 16,20Q16,25 11,25" stroke="#000" stroke-width="1.500" fill="none"/></g>
<g transform="translate(1999,122)"><use href="#bt"/><path d="M32,11H12V19H28V26H8" fill="none" stroke="#000" stroke-width="2"/></g>
<g transform="translate(1879,162)"><use href="#bt"/><use href="#ifit"/></g>
<g transform="translate(1919,162)"><use href="#bt"/><use href="#ice"/></g>
<g transform="translate(1959,162)"><use href="#bt"/><text x="19" y="24" text-anchor="middle" font-size="13" font-weight="bold" font-family="Liberation Sans" fill="#000">1:2</text></g>
<g transform="translate(1999,162)"><use href="#bt"/><rect x="8" y="8" width="22" height="22" fill="none" stroke="#000" stroke-width="2"/><text x="19" y="25" text-anchor="middle" font-size="15" font-weight="bold" font-family="Liberation Sans" fill="#000">?</text></g>
<g transform="translate(1879,202)"><use href="#bt"/><path d="M7,10H24M7,19L29,15M10,23H29" fill="none" stroke="#000" stroke-width="2"/><path d="M24,7H30V13H24Z" fill="#000"/><ellipse cx="22" cy="27" rx="8" ry="5" fill="none" stroke="#000"/></g>
<g transform="translate(1919,202)"><use href="#bt"/><path d="M5,19H33M13,5V33M23,5V33" stroke="#a89090" fill="none"/></g>
<g transform="translate(1959,202)"><use href="#bt"/><rect x="3" y="3" width="32" height="32" fill="none" stroke="#c01010" stroke-width="3"/><path d="M9,16H16V26H24" fill="none" stroke="#d02020"/><path d="M16,8V16M10,29H20" stroke="#0030e0" fill="none"/><circle cx="9" cy="16" r="2.500" fill="#e01010"/><circle cx="17" cy="8" r="2.500" fill="#0030e0"/><circle cx="10" cy="29" r="2.500" fill="#0030e0"/><circle cx="26" cy="11" r="4" fill="#e01010"/><circle cx="26" cy="19" r="2.500" fill="none" stroke="#000"/><circle cx="26" cy="27" r="2.500" fill="none" stroke="#000"/></g>
<g transform="translate(1999,202)"><use href="#bt"/><rect x="3" y="3" width="32" height="32" fill="none" stroke="#c01010" stroke-width="3"/><path d="M9,16H20V26H12" fill="none" stroke="#000"/><circle cx="9" cy="16" r="2.500"/><circle cx="17" cy="8" r="2.500"/><circle cx="10" cy="29" r="2.500"/><circle cx="26" cy="11" r="4" fill="#e01010"/><circle cx="26" cy="19" r="2.500" fill="none" stroke="#000"/><circle cx="26" cy="27" r="2.500" fill="none" stroke="#000"/><path d="M13,14H20" stroke="#d02020" stroke-width="2"/></g>

<g transform="translate(1879,245)"><use href="#bw"/><rect x="11" y="14" width="16" height="16" fill="none" stroke="#000" stroke-width="1.500"/><circle cx="19" cy="22" r="6"/><path d="M24,15L31,7" stroke="#000" stroke-width="2"/><path d="M32,5L26,7L31,11Z"/></g>
<g transform="translate(1919,245)"><use href="#bw"/><rect x="5" y="5" width="28" height="28"/><rect x="19" y="8" width="11" height="11" fill="none" stroke="#e00000" stroke-width="3"/><rect x="8" y="25" width="6" height="6" fill="none" stroke="#0020e0" stroke-width="1.500"/><path d="M10,24L19,9M14,29L30,20" stroke="#fff" fill="none" stroke-width=".8"/></g>
<g transform="translate(1959,245)"><use href="#bw"/><rect x="7" y="17" width="26" height="6"/><path d="M7,15H33" stroke="#000" stroke-width="4" stroke-dasharray="1.300 1.300"/></g>
<g transform="translate(1999,245)"><use href="#bw"/><rect x="8" y="8" width="23" height="23" fill="none" stroke="#000" stroke-dasharray="2 1.500"/><circle cx="19" cy="19" r="7"/></g>

<g transform="translate(1879,285)"><use href="#bg"/><path d="M11,11V27H27" fill="none" stroke="#1010f0" stroke-width="3"/><circle cx="11" cy="11" r="4" fill="#1010f0"/><circle cx="11" cy="27" r="5" fill="#1010f0"/><circle cx="27" cy="27" r="5" fill="#1010f0"/><circle cx="27" cy="11" r="4.500" fill="#f01010"/></g>
<g transform="translate(1919,285)"><use href="#bg"/><path d="M10,10L28,28M28,10L10,28" stroke="#000" stroke-width="2"/><circle cx="19" cy="19" r="4.500" fill="#000080"/></g>
<g transform="translate(1959,285)"><use href="#bg"/><circle cx="10" cy="27" r="3.500" fill="none" stroke="#1010f0" stroke-width="2"/><circle cx="27" cy="11" r="4.500" fill="#f01010"/><path d="M14,23L21,16" stroke="#000"/><path d="M22,14L18,15L21,18Z"/></g>
<g transform="translate(1999,285)"><use href="#bg"/><circle cx="10" cy="27" r="4.500" fill="#1010f0"/><circle cx="27" cy="11" r="4.500" fill="#f01010"/><path d="M14,23L21,16" stroke="#000"/><path d="M22,14L18,15L21,18Z"/></g>

<g transform="translate(1879,325)"><use href="#bg"/><path d="M10,25L28,7" stroke="#e01010" stroke-width="3"/><path d="M9,29H29" stroke="#1010f0" stroke-width="3"/><path d="M27,22L23,18M23,18V21M23,18H26" stroke="#000" fill="none"/></g>
<g transform="translate(1919,325)"><use href="#bg"/><path d="M8,27L18,18" stroke="#1010f0" stroke-width="3"/><path d="M18,18L28,8" stroke="#e01010" stroke-width="3"/><path d="M22,25L27,20M27,20H24M27,20V23" stroke="#000" fill="none"/></g>
<g transform="translate(1959,325)"><use href="#bg"/><path d="M15,9Q26,10 26,19Q26,28 16,29" fill="none" stroke="#000" stroke-width="1.500"/><path d="M12,29L18,25V33Z"/></g>
<g transform="translate(1999,325)"><use href="#bg"/><path d="M8,9H17V28M9,18H17" fill="none" stroke="#1010f0" stroke-width="3"/><path d="M32,9H23V28M23,18H31" fill="none" stroke="#e01010" stroke-width="3"/><path d="M20,6V32" stroke="#000"/></g>

<g transform="translate(1879,365)"><use href="#bg"/><rect x="21" y="6" width="11" height="11" fill="#e01010"/><circle cx="26.500" cy="11.500" r="3" fill="#c8c8c8"/><rect x="7" y="22" width="10" height="10" fill="none" stroke="#1010f0"/><circle cx="12" cy="27" r="3" fill="#1010f0"/><path d="M17,20L21,17" stroke="#000"/></g>
<g transform="translate(1919,365)"><use href="#bg"/><path d="M7,19H31" stroke="#e01010" stroke-width="3"/><path d="M15,19H23" stroke="#1010f0" stroke-width="3"/></g>
<g transform="translate(1959,365)"><use href="#bg"/><path d="M6,6V33M32,6V33" stroke="#000"/><path d="M8,19H30" stroke="#1010f0"/><rect x="15" y="14" width="8" height="10" fill="#c8c8c8" stroke="#1010f0"/><text x="19" y="22.500" text-anchor="middle" font-size="8" font-family="Liberation Sans" fill="#1010f0">4</text></g>
<g transform="translate(1999,365)"><use href="#bg"/><rect x="8" y="9" width="14" height="14" fill="#1010f0"/><rect x="14" y="16" width="17" height="13" fill="#1010f0"/><circle cx="14" cy="15" r="3.500" fill="#c8c8c8"/><circle cx="24" cy="23" r="4" fill="#c8c8c8"/></g>

<g transform="translate(1879,405)"><use href="#bg"/><path d="M19,10L29,26" stroke="#e01010" stroke-width="2" fill="none"/><path d="M19,10L9,26" stroke="#e01010" stroke-width="2" fill="none"/><path d="M8,27H30" stroke="#1010f0" stroke-width="3"/><path d="M19,16V23M17,18L19,15L21,18" fill="none" stroke="#000"/></g>
<g transform="translate(1919,405)"><use href="#bg"/><path d="M9,30L19,6L29,30" fill="none" stroke="#e01010" stroke-width="2"/><path d="M8,33L19,22L30,33" fill="none" stroke="#1010f0" stroke-width="2.500"/><path d="M19,14V20M17,16L19,13L21,16" fill="none" stroke="#000"/></g>
<g transform="translate(1959,405)"><use href="#bg"/><path d="M11,23L15,8H23L27,23" fill="none" stroke="#e01010" stroke-width="3"/><path d="M6,32V26L10,23H28L32,26V32" fill="none" stroke="#1010f0" stroke-width="3"/><path d="M19,12V20M17,14L19,11L21,14" fill="none" stroke="#000"/></g>
<g transform="translate(1999,405)"><use href="#bg"/><path d="M11,24L15,9H23L27,24" fill="none" stroke="#e01010" stroke-width="3"/><path d="M6,25H32" stroke="#1010f0" stroke-width="3"/><path d="M6,22L10,28M10,22L6,28M28,22L32,28M32,22L28,28" stroke="#000" fill="none" stroke-width=".8"/><path d="M19,13V21M17,15L19,12L21,15" fill="none" stroke="#000"/></g>

<g transform="translate(1879,445)"><use href="#bo"/><use href="#ptr" x="2"/></g>
<g transform="translate(1919,445)"><use href="#bo"/><rect x="8" y="8" width="22" height="22" fill="none" stroke="#e01010" stroke-width="2.500"/><use href="#ptr" x="1"/></g>
<g transform="translate(1959,445)"><use href="#bo"/><path d="M14,8H30V30H14L8,24V14Z" fill="none" stroke="#e01010" stroke-width="2.500"/><use href="#ptr" x="1"/></g>
<g transform="translate(1999,445)"><use href="#bo"/><path d="M9,29H14V13H22V8H26" fill="none" stroke="#000"/><circle cx="10" cy="20" r="2.500" fill="#e01010"/><circle cx="9" cy="29" r="2.500" fill="#22cc22"/><circle cx="28" cy="8" r="2.500" fill="#22cc22"/><use href="#ptr" transform="translate(14,10) scale(.8)"/></g>
</g>

<!-- minimap -->
<rect x="1877" y="488" width="2" height="552" fill="#4a8080"/>
<rect x="2038" y="488" width="2" height="552" fill="#8ccccc"/>
<rect x="1878.500" y="698.500" width="160" height="86" fill="none" stroke="#4a7a30"/>
<rect x="1990" y="713" width="48" height="33" fill="#fa0a0a"/>
<rect x="1990" y="713" width="36" height="3" fill="#999"/>
<rect x="1886" y="716" width="141" height="50" fill="none" stroke="#fff" stroke-width="2"/>
<path d="M2026,716V766" stroke="#8cdcdc" stroke-width="2"/>
<path d="M1883,763L1890,770M1890,763L1883,770" stroke="#fff"/>

<rect x="1877" y="994" width="163" height="44" fill="#54cdac"/><rect x="1877" y="994" width="163" height="2" fill="#c8f4e8"/>
<text class="m" x="1881" y="1015" font-size="13" textLength="116">X = 5.782084"</text>
<text class="m" x="1881" y="1029" font-size="13" textLength="116">Y = 2.768878"</text>

<!-- bottom bar -->
<rect y="1037" width="2040" height="3" fill="#000"/>
<rect y="1040" width="1960" height="30" fill="#ffffd0"/>
<rect x="1960" y="1040" width="80" height="30" fill="#3a9a82"/><rect x="1961" y="1041" width="79" height="29" fill="#54cdac"/>
<rect x="1967" y="1044" width="69" height="25" fill="#54cdac" stroke="#2a7a6a"/>
<text class="m" x="1973" y="1061" font-size="13" textLength="36">Inch</text>
<rect x="2018" y="1055" width="12" height="5" fill="#9cdcdc" stroke="#2a6a6a"/>
<g fill="none" stroke="#222" stroke-width="1">
<rect x="-1" y="1041" width="23" height="27" stroke="#a8a888"/><rect x="1" y="1046" width="16" height="18" fill="#ffffd0"/><path d="M2,1047L16,1063M16,1063V1058M16,1063H11"/>
<rect x="26" y="1041" width="26" height="27" stroke="#a8a888"/><path d="M31,1063H47M31,1063L42,1047"/><text x="38" y="1057" font-size="8" font-family="Liberation Serif" fill="#222" stroke="none">1/</text>
</g>
<rect x="58" y="1041" width="27" height="29" fill="#3a9a82"/><rect x="61" y="1044" width="21" height="24" fill="#e8f0c8"/><rect x="65" y="1047" width="14" height="16" fill="none" stroke="#222"/><path d="M72,1047V1063M65,1055H79" stroke="#222"/>
<text class="m" x="90" y="1061" font-size="13" textLength="35">X Y :</text>
<rect x="136" y="1042" width="172" height="27" fill="#ffffd0" stroke="#a8a888" stroke-width="2"/>
<path d="M141,1050H147M144,1050V1063M141,1063H147" stroke="#333" fill="none"/>
<rect x="309" y="1040" width="27" height="30" fill="#3a9a82"/><rect x="312" y="1043" width="21" height="25" fill="#e8f0c8"/><rect x="316" y="1047" width="14" height="17" fill="none" stroke="#222"/><path d="M323,1049V1059M323,1061V1063" stroke="#111" stroke-width="1.500"/>
<text class="l" x="345" y="1061" textLength="215" lengthAdjust="spacing">&lt;M1&gt; - Select first area corner</text>
</svg>
</body></html>
